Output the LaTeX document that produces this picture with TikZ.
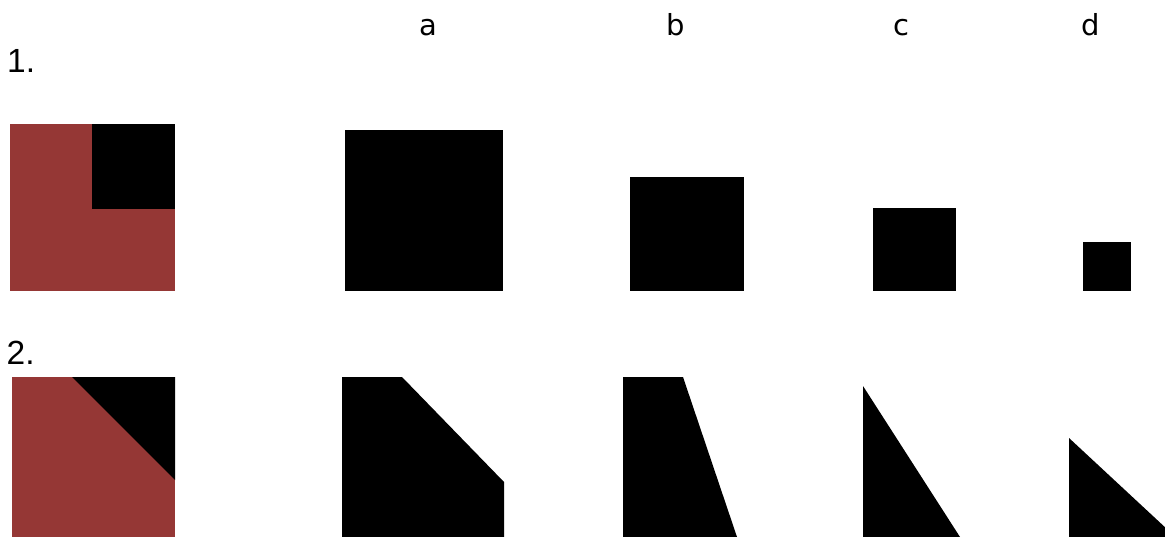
\documentclass[tikz,border=0pt]{standalone}
\usepackage{fontspec}
\setmainfont{Liberation Sans}
\newfontfamily\lblfont{DejaVu Sans}
\definecolor{brick}{RGB}{149,55,53}
\tikzset{
  blk/.style={fill=black, draw=none},
  redsq/.style={fill=brick, draw=none},
  rowlbl/.style={anchor=base west, inner sep=0pt, font=\fontsize{33.5}{33.5}\selectfont},
  collbl/.style={anchor=base, inner sep=0pt, font=\lblfont\fontsize{29}{29}\selectfont},
}
\begin{document}
\begin{tikzpicture}[x=1pt,y=-1pt]
\useasboundingbox (0,0) rectangle (1165,537);
% column labels
\node[collbl] (la) at (428,36) {a};
\node[collbl] (lb) at (675.5,36) {b};
\node[collbl] (lc) at (901,36) {c};
\node[collbl] (ld) at (1091,36) {d};
% row labels
\node[rowlbl] (r1) at (7,73) {1.};
\node[rowlbl] (r2) at (6.5,364) {2.};
% row 1
\fill[redsq] (10,124) rectangle (175,291);
\fill[blk] (92,124) rectangle (175,209);
\fill[blk] (345,130) rectangle (503,291);
\fill[blk] (630,177) rectangle (744,291);
\fill[blk] (873,208) rectangle (956,291);
\fill[blk] (1083,242) rectangle (1131,291);
% row 2
\fill[redsq] (12,377) rectangle (175,537);
\fill[blk] (72,377) -- (175,377) -- (175,480) -- cycle;
\fill[blk] (342,377) -- (402,377) -- (504,482) -- (504,537) -- (342,537) -- cycle;
\fill[blk] (623,377) -- (683,377) -- (737,537) -- (623,537) -- cycle;
\fill[blk] (863,386) -- (960,537) -- (863,537) -- cycle;
\fill[blk] (1069,438) -- (1168,530) -- (1168,537) -- (1069,537) -- cycle;
\end{tikzpicture}
\end{document}
